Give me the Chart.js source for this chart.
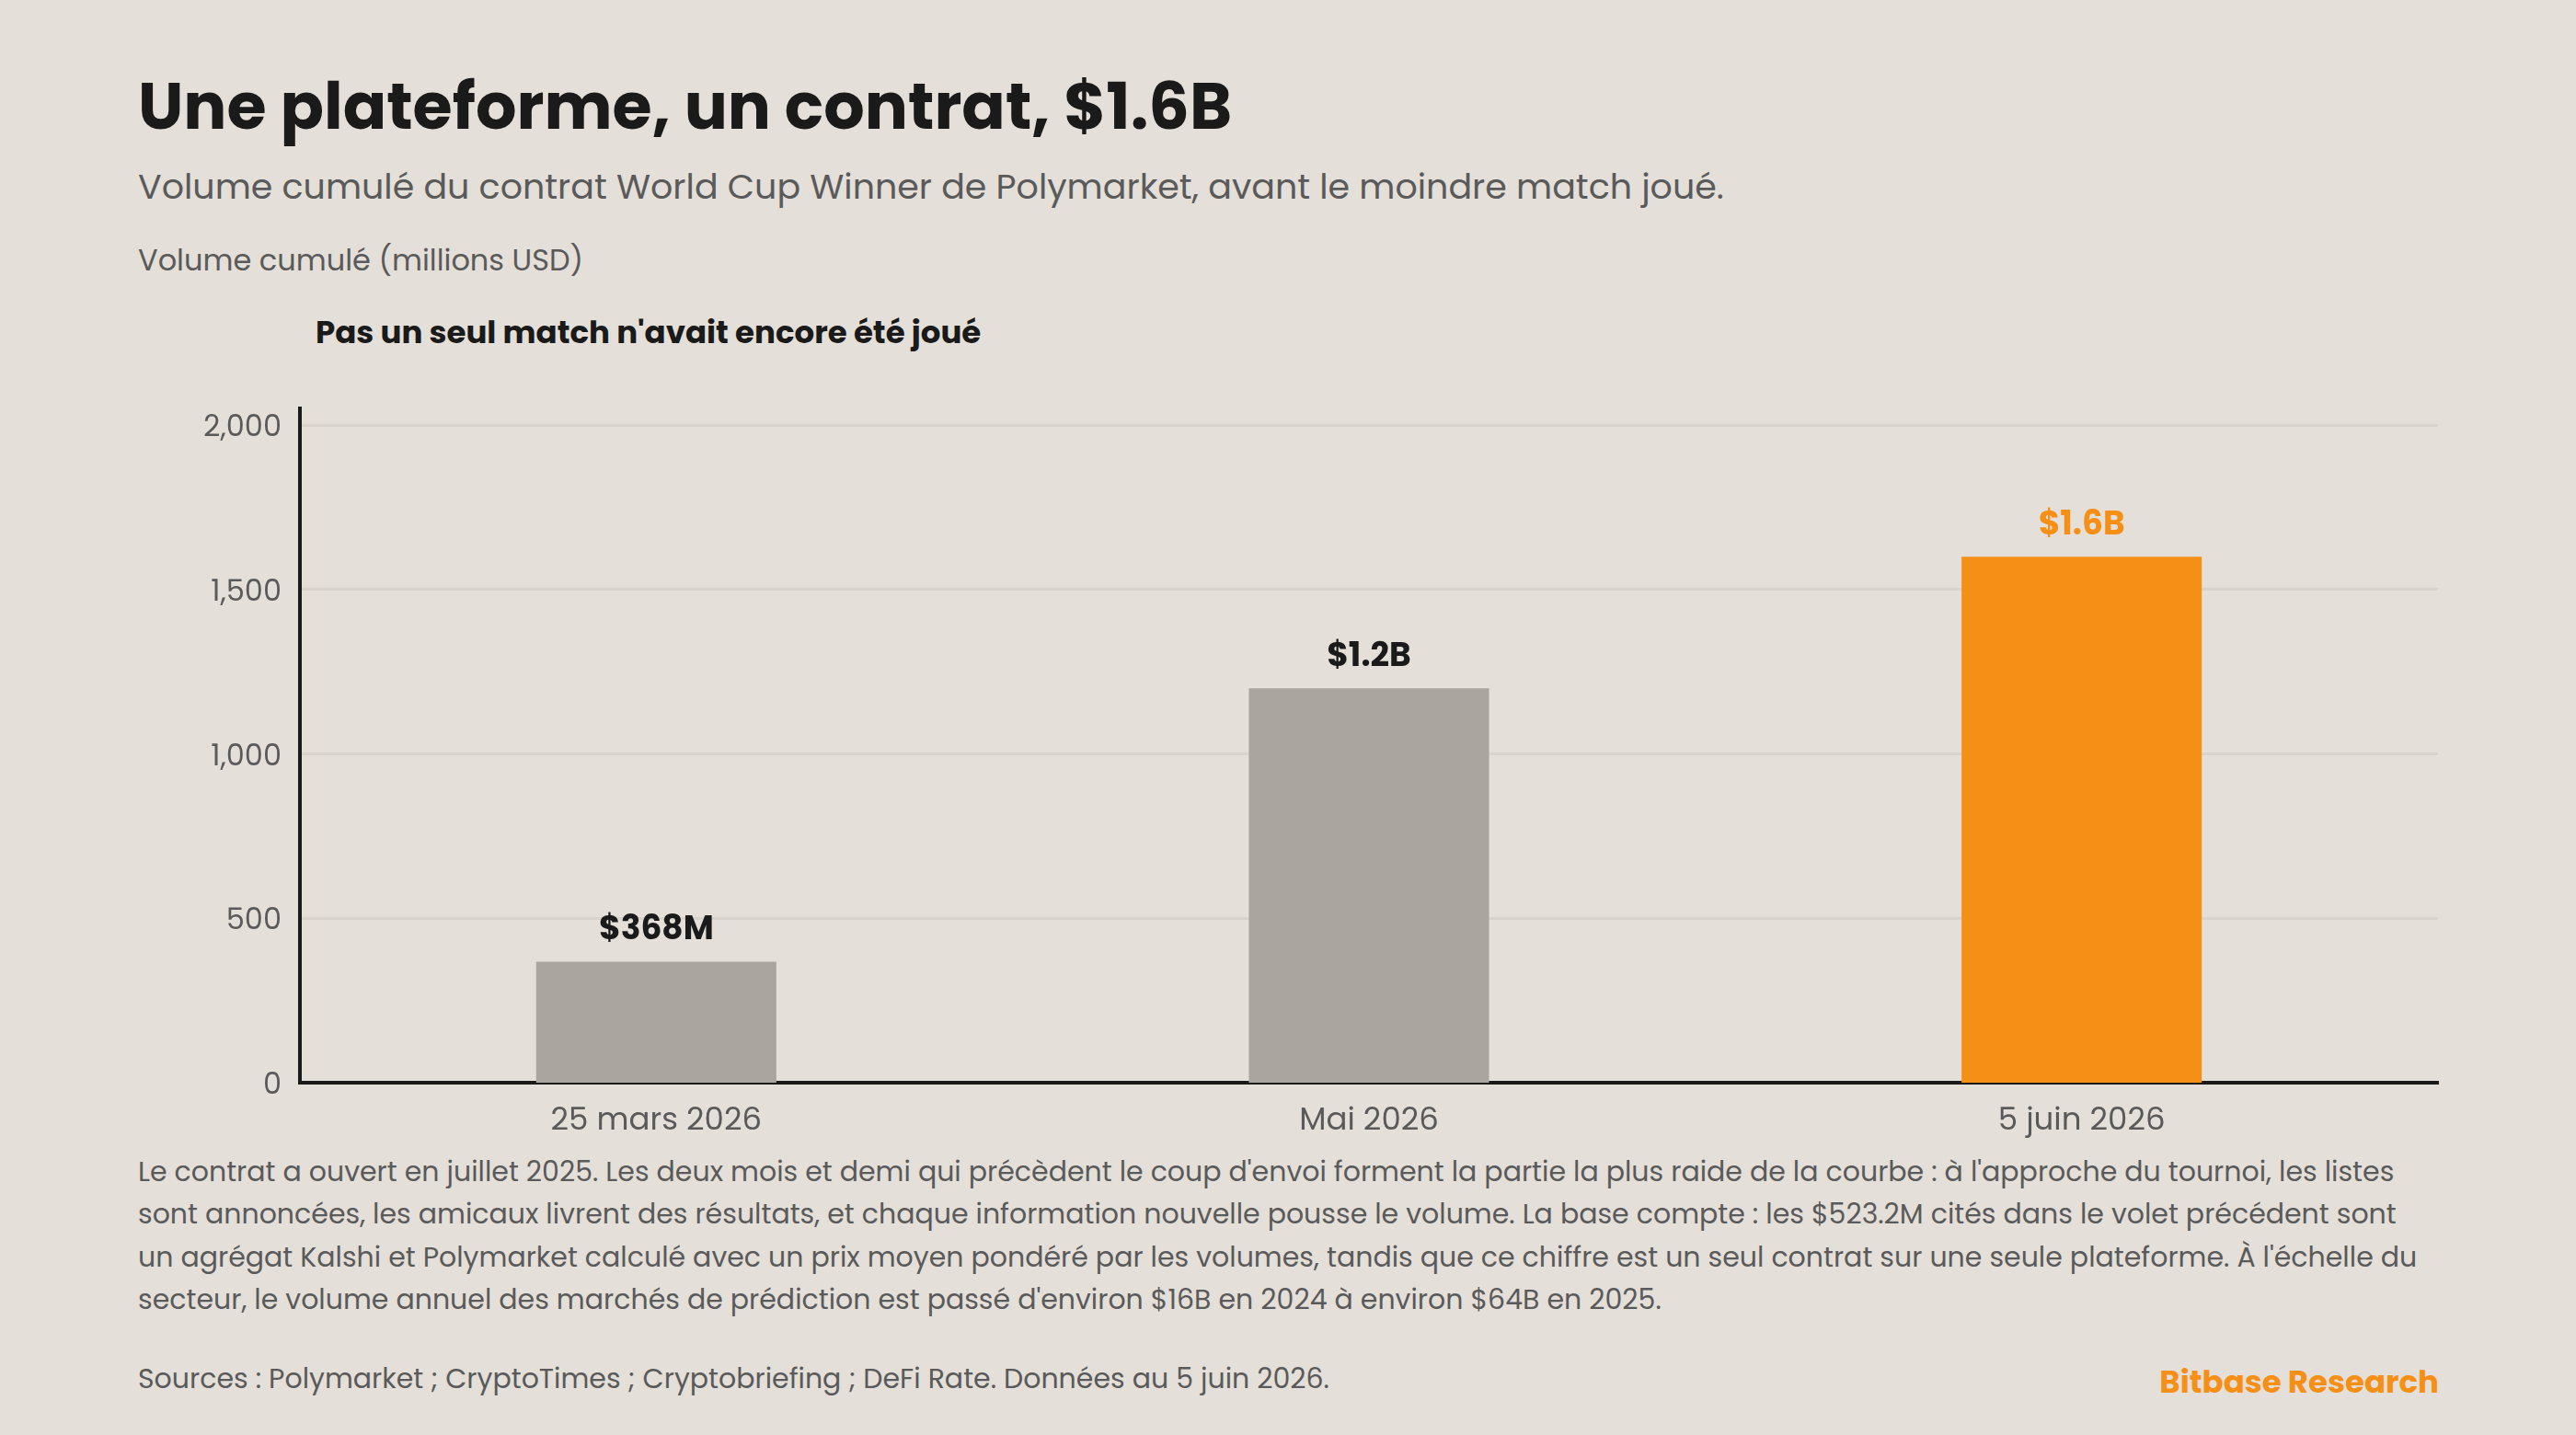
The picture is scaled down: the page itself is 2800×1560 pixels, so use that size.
<!DOCTYPE html>
<html lang="fr">
<head>
<meta charset="utf-8">
<title>Une plateforme, un contrat, $1.6B</title>
<script src="https://cdn.jsdelivr.net/npm/chart.js@4"></script>
<style>
  html, body { margin: 0; padding: 0; background: #e4dfd9; }
  body { width: 2800px; height: 1560px; position: relative; overflow: hidden; font-family: Poppins, Inter, sans-serif; color: #5a5a5a; }
  canvas { position: absolute; left: 0; top: 0; }
  .t { position: absolute; white-space: nowrap; line-height: 1; }
  #title { left: 150px; top: 81px; font-size: 70px; font-weight: 700; color: #1a1a1a; }
  #subtitle { left: 150px; top: 184px; font-size: 38px; }
  #caption { left: 150px; top: 267px; font-size: 32px; }
  #note { left: 343px; top: 344px; font-size: 34px; font-weight: 700; color: #1a1a1a; }
  #body { left: 150px; top: 1251px; font-size: 30px; line-height: 46.4px; }
  #sources { left: 150px; top: 1484px; font-size: 30px; }
  #brand { right: 149px; top: 1485px; font-size: 34px; font-weight: 700; color: #f68f16; }
</style>
</head>
<body>
<div class="t" id="title">Une plateforme, un contrat, $1.6B</div>
<div class="t" id="subtitle">Volume cumulé du contrat World Cup Winner de Polymarket, avant le moindre match joué.</div>
<div class="t" id="caption">Volume cumulé (millions USD)</div>
<div class="t" id="note">Pas un seul match n'avait encore été joué</div>
<div class="t" id="body">Le contrat a ouvert en juillet 2025. Les deux mois et demi qui précèdent le coup d'envoi forment la partie la plus raide de la courbe : à l'approche du tournoi, les listes<br>sont annoncées, les amicaux livrent des résultats, et chaque information nouvelle pousse le volume. La base compte : les $523.2M cités dans le volet précédent sont<br>un agrégat Kalshi et Polymarket calculé avec un prix moyen pondéré par les volumes, tandis que ce chiffre est un seul contrat sur une seule plateforme. À l'échelle du<br>secteur, le volume annuel des marchés de prédiction est passé d'environ $16B en 2024 à environ $64B en 2025.</div>
<div class="t" id="sources">Sources : Polymarket ; CryptoTimes ; Cryptobriefing ; DeFi Rate. Données au 5 juin 2026.</div>
<div class="t" id="brand">Bitbase Research</div>
<canvas id="volume-chart" width="2800" height="1560"></canvas>
<script>
var categories = ['25 mars 2026', 'Mai 2026', '5 juin 2026'];
var volumes = [368, 1200, 1600];
var valueLabels = ['$368M', '$1.2B', '$1.6B'];
var barColors = ['#aaa59e', '#aaa59e', '#f68f16'];
var labelColors = ['#1a1a1a', '#1a1a1a', '#f68f16'];
var yTicks = [0, 500, 1000, 1500, 2000];

var fontName = 'Poppins, Inter, sans-serif';

// value labels above each bar
var barLabels = {
  id: 'barLabels',
  afterDatasetsDraw: function (chart) {
    var ctx = chart.ctx;
    var bars = chart.getDatasetMeta(0).data;
    ctx.save();
    ctx.font = '700 36px ' + fontName;
    ctx.textAlign = 'center';
    ctx.textBaseline = 'middle';
    bars.forEach(function (bar, i) {
      ctx.fillStyle = labelColors[i];
      ctx.fillText(valueLabels[i], bar.x, bar.y - 33);
    });
    ctx.restore();
  }
};

// Poppins sits high on the middle baseline, nudge the y tick labels down to the gridlines
var tickNudge = {
  id: 'tickNudge',
  afterUpdate: function (chart) {
    chart.scales.y.getLabelItems().forEach(function (item) {
      item.options.translation[1] += 4;
    });
  }
};

var ctx = document.getElementById('volume-chart').getContext('2d');
var myChart = new Chart(ctx, {
  type: 'bar',
  data: {
    labels: categories,
    datasets: [{
      data: volumes,
      backgroundColor: barColors,
      borderWidth: 0,
      categoryPercentage: 1,
      barPercentage: 0.337
    }]
  },
  options: {
    responsive: false,
    animation: false,
    devicePixelRatio: 1,
    layout: { padding: { top: 444, right: 150, left: 0, bottom: 0 } },
    plugins: { legend: { display: false }, tooltip: { enabled: false } },
    scales: {
      x: {
        afterFit: function (scale) { scale.height = 383; },
        grid: { display: false },
        border: { color: '#1a1a1a', width: 4 },
        ticks: { color: '#5a5a5a', font: { family: fontName, size: 34 }, padding: 14, maxRotation: 0 }
      },
      y: {
        min: 0,
        max: 2051,
        afterFit: function (scale) { scale.width = 326; },
        afterBuildTicks: function (scale) {
          scale.ticks = yTicks.map(function (v) { return { value: v }; });
        },
        grid: {
          color: '#d8d4cd',
          // no line at zero: it sits under the x axis and would lift the bars off the base
          lineWidth: function (c) { return c.tick && c.tick.value === 0 ? 0 : 3; },
          drawTicks: false
        },
        border: { color: '#1a1a1a', width: 4 },
        ticks: {
          color: '#5a5a5a',
          padding: 20,
          font: { family: fontName, size: 32 },
          callback: function (v) { return v.toLocaleString('en-US'); }
        }
      }
    }
  },
  plugins: [barLabels, tickNudge]
});
</script>
</body>
</html>
